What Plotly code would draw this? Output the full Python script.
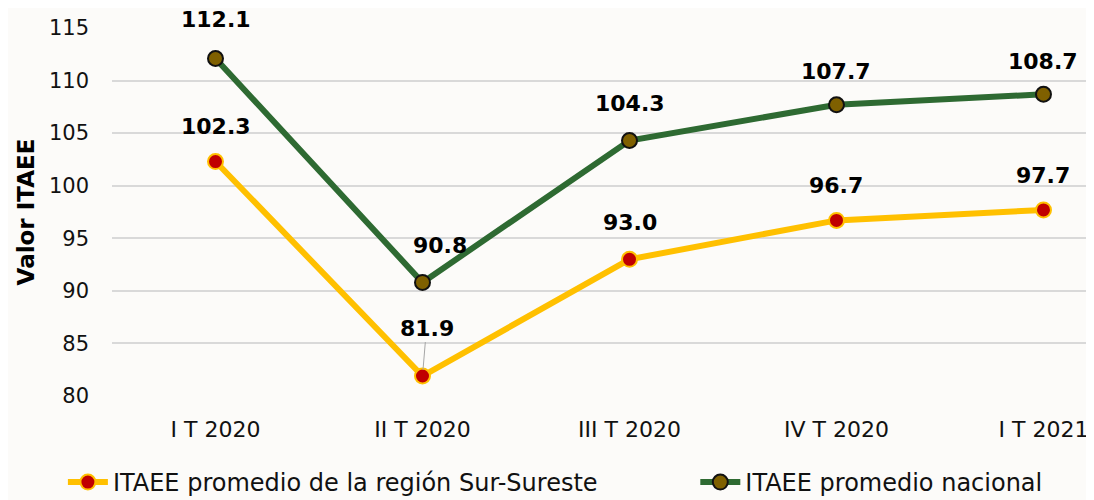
import plotly.graph_objects as go

categories = ["I T 2020", "II T 2020", "III T 2020", "IV T 2020", "I T 2021"]
sur_sureste = [102.3, 81.9, 93.0, 96.7, 97.7]
nacional = [112.1, 90.8, 104.3, 107.7, 108.7]
name_sur = "ITAEE promedio de la región Sur-Sureste"
name_nac = "ITAEE promedio nacional"
y_ticks = [80, 85, 90, 95, 100, 105, 110, 115]

FONT = "DejaVu Sans"
fig = go.Figure()

fig.add_trace(go.Scatter(
    x=categories, y=sur_sureste, name=name_sur, mode="lines+markers",
    line=dict(color="#FFC000", width=6),
    marker=dict(size=15, color="#C00000", line=dict(color="#FFC000", width=2)),
    cliponaxis=False, legend="legend",
))
fig.add_trace(go.Scatter(
    x=categories, y=nacional, name=name_nac, mode="lines+markers",
    line=dict(color="#2E6A32", width=6),
    marker=dict(size=15, color="#7F6000", line=dict(color="#111111", width=2)),
    cliponaxis=False, legend="legend2",
))

# label offsets (pixels)
nac_shift = [(0, 39), (17, 37), (0, 37), (0, 33), (0, 33)]
sur_shift = [(0, 35), None, (0, 37), (0, 35), (0, 34)]
LABEL_FONT = dict(family=FONT, size=22, color="#000000")

for i, c in enumerate(categories):
    dx, dy = nac_shift[i]
    fig.add_annotation(x=c, y=nacional[i], text=f"<b>{nacional[i]:.1f}</b>",
                       showarrow=False, xshift=dx, yshift=dy, font=LABEL_FONT)
    if sur_shift[i] is None:
        fig.add_annotation(x=c, y=sur_sureste[i], text=f"<b>{sur_sureste[i]:.1f}</b>",
                           showarrow=True, ax=4, ay=-48, arrowhead=0,
                           arrowwidth=1, arrowcolor="#A6A6A6", standoff=6,
                           font=LABEL_FONT)
    else:
        dx, dy = sur_shift[i]
        fig.add_annotation(x=c, y=sur_sureste[i], text=f"<b>{sur_sureste[i]:.1f}</b>",
                           showarrow=False, xshift=dx, yshift=dy, font=LABEL_FONT)

LEG_FONT = dict(family=FONT, size=24, color="#111111")
# page has an 8px body margin, so the figure is 8px smaller and shifted
fig.update_layout(
    width=1086, height=492,
    margin=dict(l=104, r=0, t=20, b=104, autoexpand=False),
    paper_bgcolor="#FCFBF9", plot_bgcolor="rgba(0,0,0,0)",
    font=dict(family=FONT, size=21, color="#111111"),
    showlegend=True,
    legend=dict(orientation="h", x=-0.05, xanchor="left", y=-0.235, yanchor="middle",
                font=LEG_FONT, itemwidth=40, bgcolor="rgba(0,0,0,0)"),
    legend2=dict(orientation="h", x=0.594, xanchor="left", y=-0.235, yanchor="middle",
                 font=LEG_FONT, itemwidth=40, bgcolor="rgba(0,0,0,0)"),
)
fig.update_xaxes(type="category", range=[-0.5, 4.244], showgrid=False,
                 showline=False, zeroline=False, ticks="", ticklabelstandoff=18,
                 tickfont=dict(family=FONT, size=22, color="#111111"))
fig.update_yaxes(range=[80, 115], tickvals=y_ticks, showgrid=True,
                 gridcolor="#D9D9D9", gridwidth=1.5, zeroline=False, showline=False,
                 ticks="", ticklabelstandoff=22,
                 tickfont=dict(family=FONT, size=21, color="#111111"),
                 title=dict(text="<b>Valor ITAEE</b>", standoff=7,
                            font=dict(family=FONT, size=23, color="#000000")))

fig.write_html("out.html")
